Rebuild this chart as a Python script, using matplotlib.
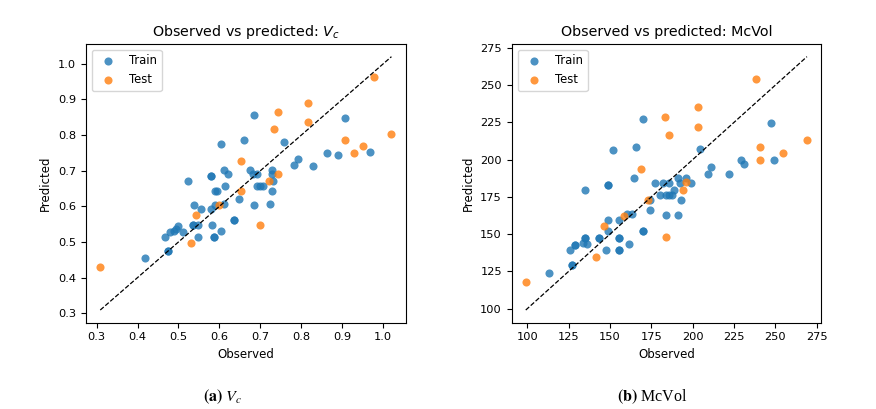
import matplotlib
matplotlib.use("Agg")
import matplotlib.pyplot as plt
import numpy as np

# ---- Data: V_c ----
vc_train_obs = [0.419, 0.474, 0.474, 0.468, 0.480, 0.488, 0.499, 0.495, 0.511, 0.523,
                0.538, 0.535, 0.535, 0.548, 0.548, 0.555, 0.580, 0.580, 0.580, 0.581,
                0.587, 0.587, 0.590, 0.594, 0.590, 0.605, 0.605, 0.611, 0.613, 0.612,
                0.620, 0.636, 0.636, 0.647, 0.660, 0.674, 0.681, 0.685, 0.685, 0.692,
                0.691, 0.699, 0.706, 0.723, 0.729, 0.728, 0.730, 0.729, 0.758, 0.782,
                0.791, 0.828, 0.863, 0.889, 0.907, 0.968]
vc_train_pred = [0.455, 0.476, 0.476, 0.513, 0.529, 0.531, 0.546, 0.536, 0.529, 0.672,
                 0.604, 0.547, 0.547, 0.547, 0.514, 0.593, 0.684, 0.684, 0.592, 0.547,
                 0.514, 0.514, 0.644, 0.644, 0.604, 0.775, 0.531, 0.702, 0.658, 0.607,
                 0.692, 0.562, 0.562, 0.620, 0.786, 0.702, 0.692, 0.857, 0.604, 0.692,
                 0.658, 0.658, 0.658, 0.607, 0.702, 0.692, 0.670, 0.644, 0.780, 0.715,
                 0.732, 0.714, 0.750, 0.743, 0.849, 0.752]
vc_test_obs = [0.309, 0.977, 0.816, 0.742, 0.734, 0.816, 1.020, 0.907, 0.950, 0.929,
               0.653, 0.742, 0.721, 0.653, 0.598, 0.543, 0.699, 0.530]
vc_test_pred = [0.431, 0.964, 0.891, 0.865, 0.818, 0.837, 0.802, 0.786, 0.770, 0.751,
                0.727, 0.692, 0.670, 0.644, 0.604, 0.576, 0.547, 0.496]

# ---- Data: McVol ----
mv_train_obs = [113.3, 125.6, 127.0, 127.0, 129.0, 129.0, 133.4, 135.0, 135.0, 135.8,
                134.6, 143.1, 143.1, 147.3, 148.7, 148.7, 148.5, 148.5, 152.0, 155.2,
                155.4, 155.4, 155.4, 155.4, 161.4, 160.2, 163.2, 164.8, 166.0, 169.7,
                169.7, 169.7, 174.1, 174.3, 177.5, 180.0, 182.0, 183.6, 183.8, 185.8,
                185.8, 187.6, 189.0, 191.4, 191.4, 192.6, 192.8, 195.9, 198.9, 204.7,
                209.6, 211.0, 222.2, 229.3, 230.9, 247.2, 249.0]
mv_train_pred = [124.1, 139.1, 129.5, 129.5, 142.9, 142.9, 144.2, 147.6, 147.6, 143.1,
                 179.3, 147.6, 147.6, 139.1, 159.4, 152.1, 182.7, 182.7, 206.4, 159.4,
                 147.6, 147.6, 139.1, 139.1, 143.6, 163.2, 163.2, 187.4, 208.6, 227.0,
                 151.8, 151.8, 172.9, 166.1, 184.5, 176.0, 184.5, 176.0, 162.6, 184.5,
                 176.0, 176.0, 179.3, 187.8, 163.0, 184.5, 172.6, 187.8, 184.5, 207.3,
                 190.5, 195.2, 190.1, 199.7, 197.4, 224.9, 200.1]
mv_test_obs = [99.0, 238.6, 203.5, 183.4, 203.1, 186.0, 269.2, 241.0, 254.7, 240.8,
               168.5, 196.1, 194.1, 172.7, 158.4, 146.5, 183.6, 141.5]
mv_test_pred = [118.1, 254.5, 235.7, 229.0, 221.8, 216.9, 213.1, 208.8, 204.4, 200.1,
                193.6, 184.7, 179.3, 172.9, 162.1, 155.4, 148.0, 134.4]

titles = ["Observed vs predicted: $V_c$", "Observed vs predicted: McVol"]
captions = [r"$\mathbf{(a)}\ V_c$", r"$\mathbf{(b)}$ McVol"]

fig = plt.figure(figsize=(8.76, 4.09), dpi=100)
W, H = 876.0, 409.0
ax1 = fig.add_axes([85.7 / W, (409 - 322.7) / H, 320.3 / W, 278.7 / H])
ax2 = fig.add_axes([511.7 / W, (409 - 322.7) / H, 309.3 / W, 278.7 / H])

datasets = [
    (ax1, vc_train_obs, vc_train_pred, vc_test_obs, vc_test_pred, titles[0]),
    (ax2, mv_train_obs, mv_train_pred, mv_test_obs, mv_test_pred, titles[1]),
]

for ax, tro, trp, teo, tep, title in datasets:
    ax.scatter(tro, trp, s=34, alpha=0.8, color="tab:blue", label="Train", linewidths=0)
    ax.scatter(teo, tep, s=34, alpha=0.8, color="tab:orange", label="Test", linewidths=0)
    allv = np.concatenate([tro, trp, teo, tep])
    lo, hi = allv.min(), allv.max()
    ax.plot([lo, hi], [lo, hi], "k--", lw=0.9)
    ax.set_title(title, fontsize=10.3)
    ax.set_xlabel("Observed", fontsize=8.5)
    ax.set_ylabel("Predicted", fontsize=8.5)
    ax.tick_params(labelsize=8.2)
    ax.legend(loc="upper left", fontsize=8.4)
    for sp in ax.spines.values():
        sp.set_linewidth(0.8)

fig.text(223 / W, 1 - 397 / H, captions[0], ha="center", va="center",
         fontsize=11.5, family="Liberation Serif", math_fontfamily="stix")
fig.text(652 / W, 1 - 397 / H, captions[1], ha="center", va="center",
         fontsize=11.5, family="Liberation Serif", math_fontfamily="stix")

fig.savefig("out.png", dpi=100)
